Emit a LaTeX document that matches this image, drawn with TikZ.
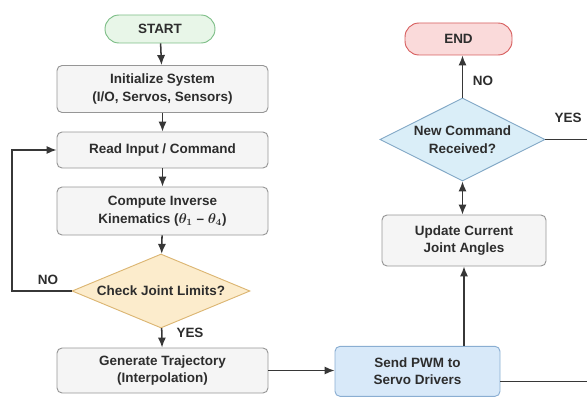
\documentclass[tikz,border=0pt]{standalone}
\usepackage{fontspec}
\usepackage{amsmath}
\setmainfont{Liberation Sans}
\usetikzlibrary{shapes.geometric, arrows.meta}

\definecolor{textgray}{RGB}{45,45,45}
\definecolor{linegray}{RGB}{55,55,55}
\definecolor{boxfill}{RGB}{245,245,245}
\definecolor{boxline}{RGB}{150,150,150}
\definecolor{startfill}{RGB}{232,246,232}
\definecolor{startline}{RGB}{125,190,135}
\definecolor{endfill}{RGB}{250,218,218}
\definecolor{endline}{RGB}{215,95,95}
\definecolor{checkfill}{RGB}{252,236,204}
\definecolor{checkline}{RGB}{220,182,115}
\definecolor{askfill}{RGB}{218,238,248}
\definecolor{askline}{RGB}{130,168,198}
\definecolor{sendfill}{RGB}{216,233,249}
\definecolor{sendline}{RGB}{138,174,210}

\tikzset{
  procbox/.style = {draw = boxline, fill = boxfill, thick, rounded corners = 0.15cm,
    align = center, inner sep = 0pt, text = textgray,
    font = \bfseries\fontsize{11.5}{15}\selectfont},
  termbox/.style = {procbox, rounded corners = 0.42cm},
  decision/.style = {diamond, thick, align = center, inner sep = 0pt, text = textgray,
    font = \bfseries\fontsize{11.5}{15}\selectfont},
  flowline/.style = {draw = linegray, line width = 1.3pt},
  flowarrow/.style = {flowline, -{Latex[length = 8.5pt, width = 7pt]}},
  lbl/.style = {text = textgray, font = \bfseries\fontsize{11.5}{13}\selectfont}
}

\begin{document}
\begin{tikzpicture}[scale = 1]
\useasboundingbox (0.0, 0.0) rectangle (17.61, 11.94);

% left column
\node[termbox, fill = startfill, draw = startline, minimum width = 3.3cm, minimum height = 0.84cm] (start) at (4.8, 11.07) {START};
\node[procbox, minimum width = 6.33cm, minimum height = 1.41cm] (init) at (4.875, 9.27) {Initialize System\\(I/O, Servos, Sensors)};
\node[procbox, minimum width = 6.33cm, minimum height = 1.08cm] (read) at (4.875, 7.44) {Read Input / Command};
\node[procbox, minimum width = 6.33cm, minimum height = 1.44cm] (ik) at (4.875, 5.61) {Compute Inverse\\Kinematics ({\boldmath$\theta_1$} -- {\boldmath$\theta_4$})};
\node[decision, aspect = 2.4, fill = checkfill, draw = checkline, minimum width = 5.34cm, minimum height = 2.22cm] (check) at (4.83, 3.21) {Check Joint Limits?};
\node[procbox, minimum width = 6.33cm, minimum height = 1.35cm] (traj) at (4.875, 0.825) {Generate Trajectory\\(Interpolation)};

% right column
\node[procbox, fill = sendfill, draw = sendline, minimum width = 4.95cm, minimum height = 1.50cm] (pwm) at (12.525, 0.80) {Send PWM to\\Servo Drivers};
\node[procbox, minimum width = 4.92cm, minimum height = 1.53cm] (update) at (13.92, 4.725) {Update Current\\Joint Angles};
\node[decision, aspect = 2.0, fill = askfill, draw = askline, minimum width = 4.95cm, minimum height = 2.49cm] (ask) at (13.875, 7.755) {New Command\\Received?};
\node[termbox, fill = endfill, draw = endline, minimum width = 3.21cm, minimum height = 0.96cm] (end) at (13.755, 10.77) {END};

\coordinate (loopx) at (0.36, 0.0);
\coordinate (edge) at (17.61, 0.0);

% connectors
\draw[flowarrow] (start) -- (init);
\draw[flowarrow] (init) -- (read);
\draw[flowarrow] (read) -- (ik);
\draw[flowarrow] (ik) -- (check);
\draw[flowarrow] (check) -- (traj);
\draw[flowarrow] (check.west) -- (check.west -| loopx) |- (read.west);
\draw[flowarrow] (traj.east) -- (traj.east -| pwm.west);
\draw[flowarrow] (update.south |- pwm.north) -- (update.south);
\draw[flowline, {Latex[length = 8.5pt, width = 7pt]}-{Latex[length = 8.5pt, width = 7pt]}] (ask.south) -- (ask.south |- update.north);
\draw[flowarrow] (ask.north) -- (ask.north |- end.south);
\draw[flowline] (ask.east) -- (ask.east -| edge);
\draw[flowline] ([yshift = -0.3cm]pwm.east) -- ([yshift = -0.3cm]pwm.east -| edge);

% labels
\node[lbl] (nocheck) at (1.44, 3.54) {NO};
\node[lbl] (yescheck) at (5.7, 1.95) {YES};
\node[lbl] (noask) at (14.49, 9.51) {NO};
\node[lbl] (yesask) at (17.04, 8.4) {YES};
\end{tikzpicture}
\end{document}
